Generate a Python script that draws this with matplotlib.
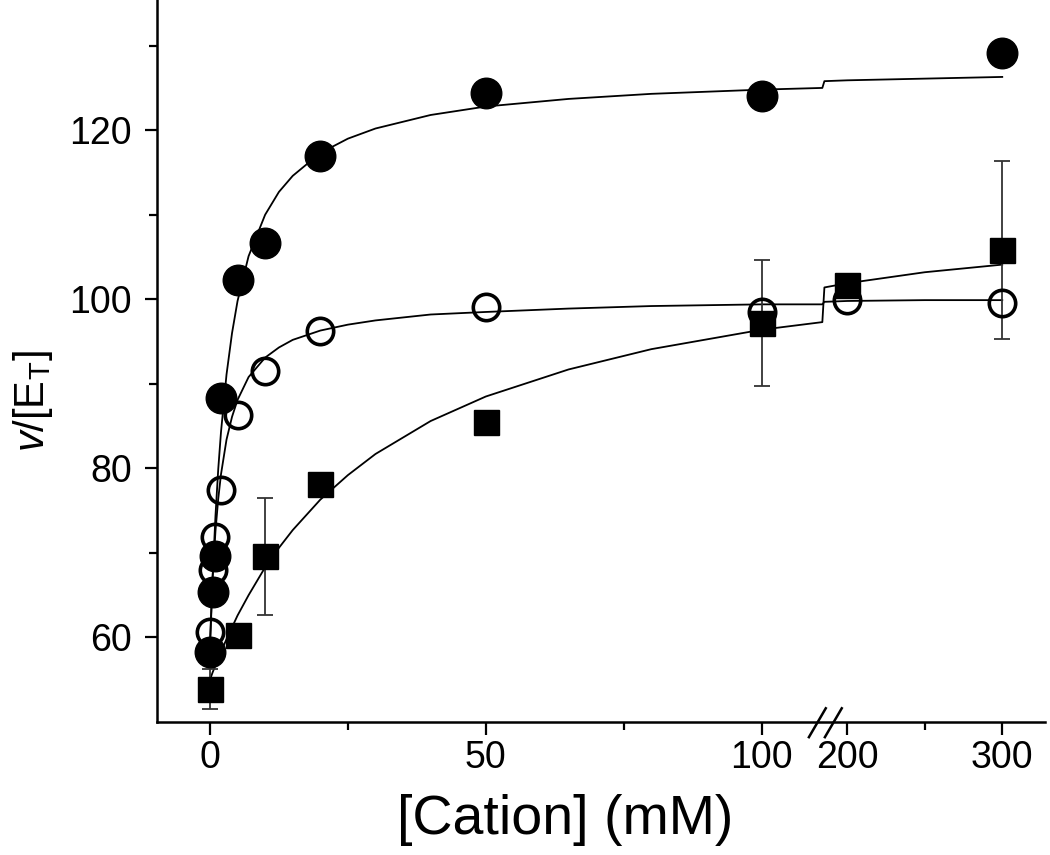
import numpy as np
import matplotlib
matplotlib.use('Agg')
import matplotlib.pyplot as plt

plt.rcParams['font.family'] = ['Liberation Sans', 'DejaVu Sans']
plt.rcParams['mathtext.fontset'] = 'custom'
plt.rcParams['mathtext.rm'] = 'Liberation Sans'
plt.rcParams['mathtext.it'] = 'Liberation Sans:italic'

# data
x_closed = [0, 0.5, 1, 2, 5, 10, 20, 50, 100, 300]
y_closed = [58.3, 65.4, 69.6, 88.3, 102.3, 106.7, 116.9, 124.4, 124.1, 129.1]

x_open = [0, 0.5, 1, 2, 5, 10, 20, 50, 100, 200, 300]
y_open = [60.6, 68.0, 71.9, 77.5, 86.3, 91.5, 96.3, 99.1, 98.5, 99.9, 99.6]

x_sq = [0, 5, 10, 20, 50, 100, 200, 300]
y_sq = [53.9, 60.3, 69.6, 78.1, 85.5, 97.2, 101.7, 105.8]
err_sq = [2.4, 0, 6.9, 0, 0, 7.5, 0, 10.5]

# fitted curves, values
x_fit = [0, 0.5, 1, 1.5, 2, 3, 4, 5, 7, 10, 12.5, 15, 20, 25, 30, 40, 50, 65, 80, 100, 111,
         185, 200, 250, 300]
fit_closed = [58.5, 67.5, 74.4, 79.9, 84.3, 91.1, 96.0, 99.8, 105.1, 110.0, 112.7, 114.6,
              117.3, 119.0, 120.2, 121.8, 122.8, 123.7, 124.3, 124.8, 125.0,
              125.8, 125.9, 126.1, 126.3]
fit_open = [59.5, 67.3, 72.6, 76.4, 79.3, 83.4, 86.1, 88.1, 90.8, 93.1, 94.3, 95.2,
            96.3, 97.0, 97.5, 98.2, 98.5, 98.9, 99.2, 99.4, 99.4,
            99.7, 99.8, 99.9, 99.9]
fit_sq = [55.0, 55.9, 56.7, 57.5, 58.3, 59.8, 61.2, 62.6, 65.0, 68.3, 70.6, 72.7,
          76.3, 79.2, 81.7, 85.6, 88.5, 91.7, 94.1, 96.4, 97.3,
          101.4, 101.9, 103.2, 104.1]

# broken x axis: 0-111 linear, 185-330 compressed
B_LO, B_HI = 111.3, 185.2
EPS = 0.001
K_R = 0.2808
U_MID = B_LO + (B_HI - B_LO) * EPS


def fwd(x):
    x = np.asarray(x, dtype=float)
    return np.where(x <= B_LO, x,
                    np.where(x <= B_HI, B_LO + (x - B_LO) * EPS,
                             U_MID + (x - B_HI) * K_R))


def inv(u):
    u = np.asarray(u, dtype=float)
    return np.where(u <= B_LO, u,
                    np.where(u <= U_MID, B_LO + (u - B_LO) / EPS,
                             B_HI + (u - U_MID) / K_R))


fig = plt.figure(figsize=(10.5, 8.55), dpi=100)
ax = fig.add_axes([157 / 1050, 133 / 855, 888 / 1050, 722 / 855])
ax.set_xscale('function', functions=(fwd, inv))

ax.plot(x_fit, fit_closed, color='black', lw=1.3, zorder=2)
ax.plot(x_fit, fit_open, color='black', lw=1.3, zorder=2)
ax.plot(x_fit, fit_sq, color='black', lw=1.3, zorder=2)

ax.errorbar(x_sq, y_sq, yerr=err_sq, fmt='none', ecolor='#333333', elinewidth=1.3,
            capsize=6, capthick=1.3, zorder=3)
ax.plot(x_sq, y_sq, 's', color='black', markersize=18, zorder=4)
ax.plot(x_closed, y_closed, 'o', color='black', markersize=22, zorder=5)
ax.plot(x_open, y_open, 'o', markerfacecolor='none', markeredgecolor='black',
        markeredgewidth=2.6, markersize=19, zorder=6)

ax.set_xlim(-9.6, 327.6)
ax.set_ylim(50, 135.4)

ax.set_xticks([0, 50, 100, 200, 300])
ax.set_xticklabels(['0', '50', '100', '200', '300'])
ax.set_xticks([25, 75, 250], minor=True)
ax.set_yticks([60, 80, 100, 120])
ax.set_yticks([70, 90, 110, 130], minor=True)

for s in ['top', 'right']:
    ax.spines[s].set_visible(False)
for s in ['left', 'bottom']:
    ax.spines[s].set_linewidth(1.8)
ax.tick_params(which='major', direction='out', length=9, width=1.6, labelsize=27)
ax.tick_params(which='minor', direction='out', length=6, width=1.6)
ax.tick_params(axis='x', which='major', pad=4)
ax.tick_params(axis='y', which='major', pad=9)

ax.set_xlabel('[Cation] (mM)', fontsize=40)
ax.xaxis.set_label_coords(0.46, -0.1)
ax.set_ylabel(r'$\mathit{v}$/[E$_\mathrm{T}$]', fontsize=30)
ax.yaxis.set_label_coords(-0.115, 0.445)

# break marks on the x axis
xb = (824 - 157) / 888
for dx in [-0.017, 0.001]:
    ax.plot([xb + dx, xb + dx + 0.019], [-0.021, 0.019], color='black', lw=1.8,
            transform=ax.transAxes, clip_on=False, zorder=7)

fig.savefig('out.png', dpi=100)
